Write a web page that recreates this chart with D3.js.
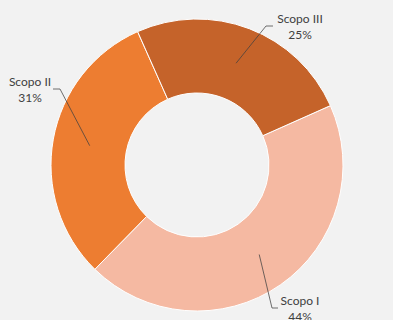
<!DOCTYPE html>
<html>
<head>
<meta charset="utf-8">
<script src="https://cdn.jsdelivr.net/npm/d3@7"></script>
<style>
  body { margin: 0; background: #f2f2f2; }
  svg { display: block; }
</style>
</head>
<body>
<svg id="chart"></svg>
<script>
var width = 393;
var height = 320;

// data
var categories = ["Scopo I", "Scopo II", "Scopo III"];
var values = [44, 31, 25];
var colors = ["#f5b9a2", "#ed7d31", "#c5632a"];

// where each label sits (layout only): text centre x, first baseline y, leader elbow + end
var labelLayout = [
    { tx: 300, ty: 305, elbow: [272, 308], end: [278, 308] },
    { tx: 30,  ty: 86,  elbow: [60, 89],   end: [53, 89] },
    { tx: 300, ty: 23,  elbow: [266, 26],  end: [273, 26] }
];

var cx = 197, cy = 165, outerR = 146, innerR = 72;
var startDeg = 66;

var svg = d3.select("#chart").attr("width", width).attr("height", height);
svg.append("rect").attr("width", width).attr("height", height).attr("fill", "#f2f2f2");

var g = svg.append("g").attr("transform", "translate(" + cx + "," + cy + ")");

var pie = d3.pie()
    .sort(null)
    .startAngle(startDeg * Math.PI / 180)
    .endAngle((startDeg + 360) * Math.PI / 180)
    .value(function(d) { return d; });

var arcs = pie(values);

var arc = d3.arc().innerRadius(innerR).outerRadius(outerR);
var midArc = d3.arc().innerRadius((innerR + outerR) / 2).outerRadius((innerR + outerR) / 2);

g.selectAll("path.slice")
    .data(arcs)
    .enter().append("path")
    .attr("class", "slice")
    .attr("d", arc)
    .attr("fill", function(d, i) { return colors[i]; })
    .attr("stroke", "#ffffff")
    .attr("stroke-width", 1);

var total = d3.sum(values);

// leader lines
svg.selectAll("polyline.leader")
    .data(arcs)
    .enter().append("polyline")
    .attr("class", "leader")
    .attr("fill", "none")
    .attr("stroke", "#404040")
    .attr("stroke-width", 0.75)
    .attr("points", function(d, i) {
        var c = midArc.centroid(d);
        var L = labelLayout[i];
        return [[c[0] + cx, c[1] + cy], L.elbow, L.end].join(" ");
    });

var labels = svg.selectAll("text.lbl")
    .data(arcs)
    .enter().append("text")
    .attr("class", "lbl")
    .attr("text-anchor", "middle")
    .attr("font-family", "Lato, 'Open Sans', sans-serif")
    .attr("font-size", "12px")
    .attr("fill", "#404040")
    .attr("x", function(d, i) { return labelLayout[i].tx; })
    .attr("y", function(d, i) { return labelLayout[i].ty; });

labels.append("tspan")
    .attr("x", function(d, i) { return labelLayout[i].tx; })
    .text(function(d, i) { return categories[i]; });

labels.append("tspan")
    .attr("x", function(d, i) { return labelLayout[i].tx; })
    .attr("dy", 16)
    .text(function(d) { return Math.round(d.value / total * 100) + "%"; });
</script>
</body>
</html>
